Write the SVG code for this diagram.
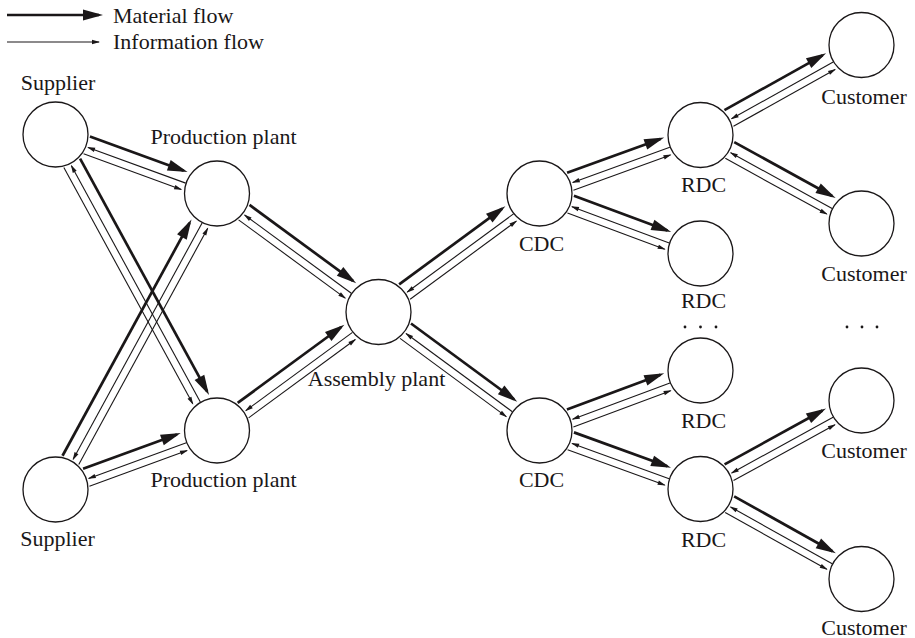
<svg xmlns="http://www.w3.org/2000/svg" width="915" height="638" viewBox="0 0 915 638">
  <style>
    .node { fill: #ffffff; stroke: #1a1718; stroke-width: 1.3; }
    .mat { fill: none; stroke: #1a1718; stroke-width: 2.7; marker-end: url(#headMat); }
    .inf { fill: none; stroke: #1a1718; stroke-width: 1.1; marker-end: url(#headInf); }
    .lbl { font-family: "Liberation Serif", "Times New Roman", serif; font-size: 22px; fill: #1a1718; text-anchor: middle; }
    .leg { font-family: "Liberation Serif", "Times New Roman", serif; font-size: 22px; fill: #1a1718; }
    .dot { fill: #1a1718; }
  </style>
  <defs>
    <marker id="headMat" markerUnits="userSpaceOnUse" markerWidth="22" markerHeight="12" refX="16" refY="5.5" orient="auto" overflow="visible">
      <path d="M0,0 L20,5.5 L0,11 z" fill="#1a1718"/>
    </marker>
    <marker id="headInf" markerUnits="userSpaceOnUse" markerWidth="9" markerHeight="5" refX="7" refY="2.2" orient="auto" overflow="visible">
      <path d="M0,0 L8,2.2 L0,4.4 z" fill="#1a1718"/>
    </marker>
  </defs>

  <rect width="915" height="638" fill="#ffffff"/>

  <!-- legend -->
  <g id="legend">
    <path class="mat" d="M7,15 H99"/>
    <text class="leg" x="113" y="23">Material flow</text>
    <path class="inf" d="M7,42 H99"/>
    <text class="leg" x="113" y="49">Information flow</text>
  </g>

  <!-- connectors: each edge is drawn in its own frame (x along the edge, from the source centre);
       thick = material forward, middle thin = information back, outer thin = information forward -->
  <g id="connectors">
    <!-- Supplier (top) -> Production plant (top) -->
    <g transform="translate(55.5,134.5) rotate(20.07)">
      <path class="mat" d="M33,-10 H132.94"/>
      <path class="inf" d="M138.94,1 H35"/>
      <path class="inf" d="M33,8.5 H136.94"/>
    </g>
    <!-- Supplier (top) -> Production plant (bottom) -->
    <g transform="translate(55.5,134.5) rotate(61.38)">
      <path class="mat" d="M33,-10 H298.19"/>
      <path class="inf" d="M304.19,1 H35"/>
      <path class="inf" d="M33,8.5 H302.19"/>
    </g>
    <!-- Supplier (bottom) -> Production plant (top) -->
    <g transform="translate(55.5,489.5) rotate(-61.38)">
      <path class="mat" d="M33,-10 H298.19"/>
      <path class="inf" d="M304.19,1 H35"/>
      <path class="inf" d="M33,8.5 H302.19"/>
    </g>
    <!-- Supplier (bottom) -> Production plant (bottom) -->
    <g transform="translate(55.5,489.5) rotate(-20.07)">
      <path class="mat" d="M33,-10 H132.94"/>
      <path class="inf" d="M138.94,1 H35"/>
      <path class="inf" d="M33,8.5 H136.94"/>
    </g>
    <!-- Production plant (top) -> Assembly plant -->
    <g transform="translate(217,193.5) rotate(36.27)">
      <path class="mat" d="M33,-10 H161.31"/>
      <path class="inf" d="M167.31,1 H35"/>
      <path class="inf" d="M33,8.5 H165.31"/>
    </g>
    <!-- Production plant (bottom) -> Assembly plant -->
    <g transform="translate(217,430.5) rotate(-36.27)">
      <path class="mat" d="M33,-10 H161.31"/>
      <path class="inf" d="M167.31,1 H35"/>
      <path class="inf" d="M33,8.5 H165.31"/>
    </g>
    <!-- Assembly plant -> CDC (top) -->
    <g transform="translate(378.5,312) rotate(-36.35)">
      <path class="mat" d="M33,-10 H160.91"/>
      <path class="inf" d="M166.91,1 H35"/>
      <path class="inf" d="M33,8.5 H164.91"/>
    </g>
    <!-- Assembly plant -> CDC (bottom) -->
    <g transform="translate(378.5,312) rotate(36.35)">
      <path class="mat" d="M33,-10 H160.91"/>
      <path class="inf" d="M166.91,1 H35"/>
      <path class="inf" d="M33,8.5 H164.91"/>
    </g>
    <!-- CDC (top) -> RDC 1 -->
    <g transform="translate(539.5,193.5) rotate(-19.97)">
      <path class="mat" d="M33,-10 H132.3"/>
      <path class="inf" d="M138.3,1 H35"/>
      <path class="inf" d="M33,8.5 H136.3"/>
    </g>
    <!-- CDC (top) -> RDC 2 -->
    <g transform="translate(539.5,193.5) rotate(20.44)">
      <path class="mat" d="M33,-10 H132.82"/>
      <path class="inf" d="M138.82,1 H35"/>
      <path class="inf" d="M33,8.5 H136.82"/>
    </g>
    <!-- CDC (bottom) -> RDC 3 -->
    <g transform="translate(539.5,430.5) rotate(-20.44)">
      <path class="mat" d="M33,-10 H132.82"/>
      <path class="inf" d="M138.82,1 H35"/>
      <path class="inf" d="M33,8.5 H136.82"/>
    </g>
    <!-- CDC (bottom) -> RDC 4 -->
    <g transform="translate(539.5,430.5) rotate(19.97)">
      <path class="mat" d="M33,-10 H132.3"/>
      <path class="inf" d="M138.3,1 H35"/>
      <path class="inf" d="M33,8.5 H136.3"/>
    </g>
    <!-- RDC 1 -> Customer 1 -->
    <g transform="translate(700.5,135) rotate(-29.2)">
      <path class="mat" d="M33,-10 H145.45"/>
      <path class="inf" d="M151.45,1 H35"/>
      <path class="inf" d="M33,8.5 H149.45"/>
    </g>
    <!-- RDC 1 -> Customer 2 -->
    <g transform="translate(700.5,135) rotate(28.8)">
      <path class="mat" d="M33,-10 H144.72"/>
      <path class="inf" d="M150.72,1 H35"/>
      <path class="inf" d="M33,8.5 H148.72"/>
    </g>
    <!-- RDC 4 -> Customer 3 -->
    <g transform="translate(700.5,489) rotate(-28.8)">
      <path class="mat" d="M33,-10 H144.72"/>
      <path class="inf" d="M150.72,1 H35"/>
      <path class="inf" d="M33,8.5 H148.72"/>
    </g>
    <!-- RDC 4 -> Customer 4 -->
    <g transform="translate(700.5,489) rotate(29.2)">
      <path class="mat" d="M33,-10 H145.45"/>
      <path class="inf" d="M151.45,1 H35"/>
      <path class="inf" d="M33,8.5 H149.45"/>
    </g>
  </g>

  <!-- nodes -->
  <g id="supplier-top">
    <circle class="node" cx="55.5" cy="134.5" r="32.5"/>
    <text class="lbl" x="58" y="90">Supplier</text>
  </g>
  <g id="supplier-bottom">
    <circle class="node" cx="55.5" cy="489.5" r="32.5"/>
    <text class="lbl" x="57.5" y="546">Supplier</text>
  </g>
  <g id="production-top">
    <circle class="node" cx="217" cy="193.5" r="32.5"/>
    <text class="lbl" x="223.5" y="144">Production plant</text>
  </g>
  <g id="production-bottom">
    <circle class="node" cx="217" cy="430.5" r="32.5"/>
    <text class="lbl" x="223.5" y="487">Production plant</text>
  </g>
  <g id="assembly">
    <circle class="node" cx="378.5" cy="312" r="32.5"/>
    <text class="lbl" x="376.5" y="386">Assembly plant</text>
  </g>
  <g id="cdc-top">
    <circle class="node" cx="539.5" cy="193.5" r="32.5"/>
    <text class="lbl" x="541.5" y="251">CDC</text>
  </g>
  <g id="cdc-bottom">
    <circle class="node" cx="539.5" cy="430.5" r="32.5"/>
    <text class="lbl" x="541.5" y="487">CDC</text>
  </g>
  <g id="rdc-1">
    <circle class="node" cx="700.5" cy="135" r="32.5"/>
    <text class="lbl" x="703.5" y="191.5">RDC</text>
  </g>
  <g id="rdc-2">
    <circle class="node" cx="700.5" cy="253.5" r="32.5"/>
    <text class="lbl" x="703.5" y="307.5">RDC</text>
  </g>
  <g id="rdc-3">
    <circle class="node" cx="700.5" cy="370.5" r="32.5"/>
    <text class="lbl" x="703.5" y="427.5">RDC</text>
  </g>
  <g id="rdc-4">
    <circle class="node" cx="700.5" cy="489" r="32.5"/>
    <text class="lbl" x="703.5" y="546.5">RDC</text>
  </g>
  <g id="customer-1">
    <circle class="node" cx="861.5" cy="45" r="32.5"/>
    <text class="lbl" x="864" y="103.5">Customer</text>
  </g>
  <g id="customer-2">
    <circle class="node" cx="861.5" cy="223.5" r="32.5"/>
    <text class="lbl" x="864" y="281">Customer</text>
  </g>
  <g id="customer-3">
    <circle class="node" cx="861.5" cy="400.5" r="32.5"/>
    <text class="lbl" x="864" y="457.5">Customer</text>
  </g>
  <g id="customer-4">
    <circle class="node" cx="861.5" cy="579" r="32.5"/>
    <text class="lbl" x="864" y="634.5">Customer</text>
  </g>

  <!-- continuation dots between the RDC and customer groups -->
  <g id="ellipsis">
    <circle class="dot" cx="685" cy="327" r="1.4"/>
    <circle class="dot" cx="700.5" cy="327" r="1.4"/>
    <circle class="dot" cx="716" cy="327" r="1.4"/>
    <circle class="dot" cx="847" cy="327" r="1.4"/>
    <circle class="dot" cx="862" cy="327" r="1.4"/>
    <circle class="dot" cx="877" cy="327" r="1.4"/>
  </g>
</svg>
